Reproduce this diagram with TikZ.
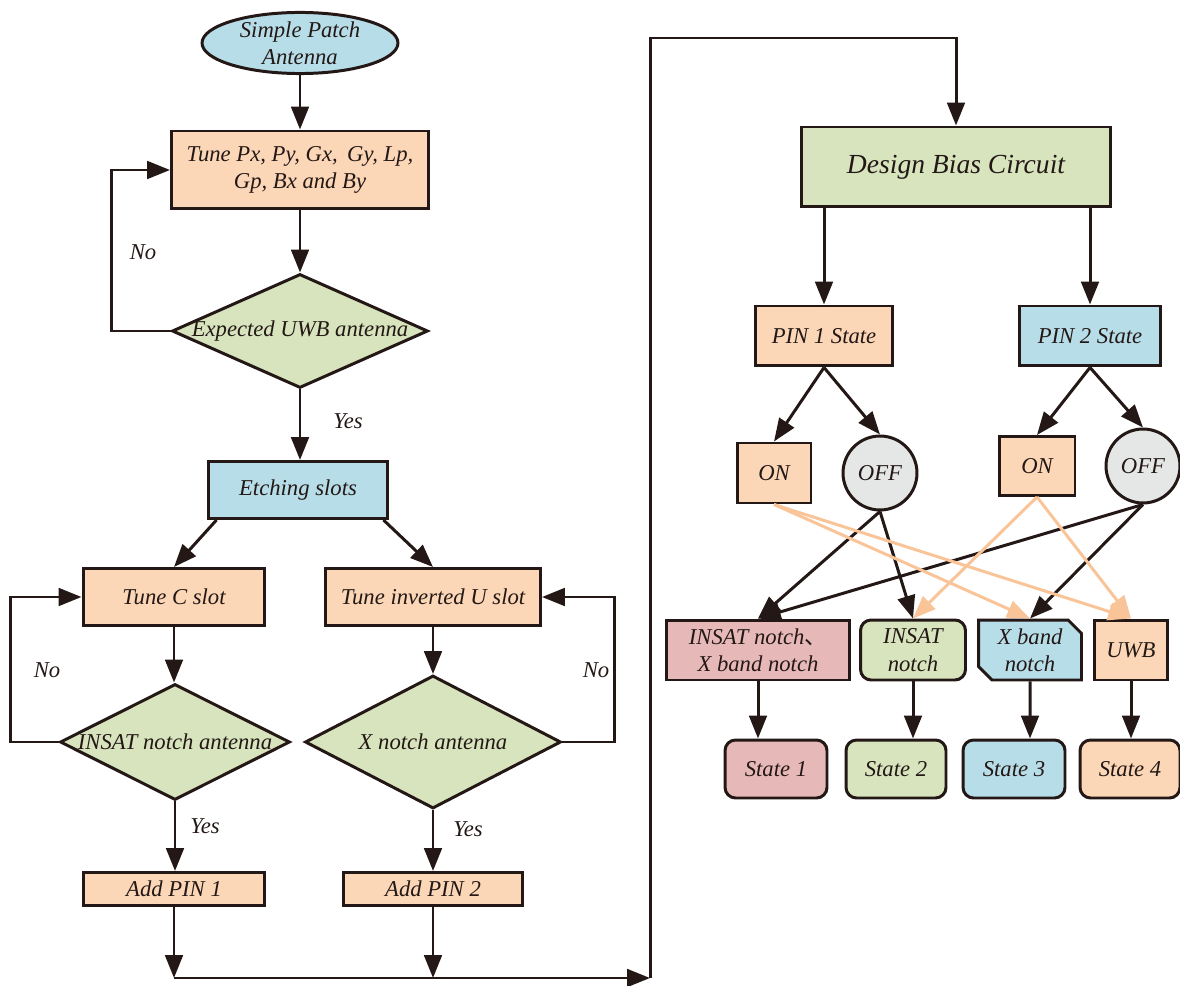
\documentclass[tikz,border=0pt]{standalone}
\usepackage{fontspec}
\setmainfont{Liberation Serif}
\newfontfamily\cjk{Noto Sans CJK SC}
\usetikzlibrary{arrows.meta,shapes.geometric,shapes.misc}
\definecolor{ink}{RGB}{35,24,21}
\definecolor{peach}{RGB}{251,214,183}
\definecolor{sky}{RGB}{183,221,232}
\definecolor{sage}{RGB}{215,228,189}
\definecolor{rose}{RGB}{230,185,184}
\definecolor{mist}{RGB}{229,231,230}
\definecolor{amber}{RGB}{249,196,152}

\begin{document}
\begin{tikzpicture}
  [x=0.02cm,y=-0.02cm,line width=1.7pt,draw=ink,
   >={Triangle[length=13pt,width=10pt]},
   every node/.style={font=\fontsize{12.9}{15.5}\selectfont\itshape,text=ink,align=center,inner sep=1pt},
   box/.style={draw,rectangle,line width=1.7pt},
   rbox/.style={box,rounded corners=6pt},
   dia/.style={draw,diamond,aspect=2,inner xsep=-0.5cm,inner ysep=0pt,fill=sage},
   sw/.style={draw,circle,fill=mist,minimum size=1.48cm,inner sep=0pt},
   soft/.style={draw=amber,color=amber}]
  \useasboundingbox (0,0) rectangle (1180,986);

  \node[draw,ellipse,fill=sky,minimum width=3.92cm,minimum height=1.2cm,inner sep=0pt] (sp) at (300,43) {Simple Patch\\Antenna};
  \node[box,fill=peach,minimum width=5.14cm,minimum height=1.56cm] (tp) at (300,170) {Tune Px, Py, Gx,\, Gy, Lp,\\Gp, Bx and By};
  \node[dia,minimum width=5.12cm,minimum height=2.28cm] (d1) at (300,331) {Expected UWB antenna};
  \node[box,fill=sky,minimum width=3.6cm,minimum height=1.14cm] (es) at (298,490) {Etching slots};
  \node[box,fill=peach,minimum width=3.64cm,minimum height=1.14cm] (tc) at (174,597) {Tune C slot};
  \node[box,fill=peach,minimum width=4.3cm,minimum height=1.14cm] (tu) at (433,597) {Tune inverted U slot};
  \node[dia,minimum width=4.6cm,minimum height=2.32cm] (d2) at (175,742) {INSAT notch antenna};
  \node[dia,minimum width=5.12cm,minimum height=2.66cm] (d3) at (433,742) {X notch antenna};
  \node[box,fill=peach,minimum width=3.64cm,minimum height=0.66cm] (a1) at (174,889) {Add PIN 1};
  \node[box,fill=peach,minimum width=3.6cm,minimum height=0.66cm] (a2) at (433,889) {Add PIN 2};

  \node[box,fill=sage,minimum width=6.18cm,minimum height=1.6cm,font=\fontsize{15.7}{18}\selectfont\itshape] (db) at (956,167) {Design Bias Circuit};
  \node[box,fill=peach,minimum width=2.74cm,minimum height=1.2cm] (p1) at (824,336) {PIN 1 State};
  \node[box,fill=sky,minimum width=2.82cm,minimum height=1.2cm] (p2) at (1090,336) {PIN 2 State};
  \node[box,fill=peach,minimum width=1.48cm,minimum height=1.2cm] (on1) at (774,473) {ON};
  \node[sw] (off1) at (880,473) {OFF};
  \node[box,fill=peach,minimum width=1.52cm,minimum height=1.18cm] (on2) at (1037,466) {ON};
  \node[sw] (off2) at (1143,466) {OFF};

  \node[box,fill=rose,minimum width=3.66cm,minimum height=1.2cm] (b1) at (758,650) {INSAT notch{\cjk 、}\\X band notch};
  \node[rbox,fill=sage,minimum width=2.1cm,minimum height=1.2cm] (b2) at (913,650) {INSAT\\notch};
  \node[draw,chamfered rectangle,chamfered rectangle corners={north east,south west},chamfered rectangle xsep=0.16cm,
        fill=sky,minimum width=2.06cm,minimum height=1.2cm] (b3) at (1030,650) {X band\\notch};
  \node[box,fill=peach,minimum width=1.46cm,minimum height=1.2cm] (b4) at (1131,650) {UWB};
  \node[rbox,fill=rose,minimum width=2.04cm,minimum height=1.16cm] (s1) at (776,769) {State 1};
  \node[rbox,fill=sage,minimum width=2cm,minimum height=1.16cm] (s2) at (896,769) {State 2};
  \node[rbox,fill=sky,minimum width=2.04cm,minimum height=1.16cm] (s3) at (1014,769) {State 3};
  \node[rbox,fill=peach,minimum width=2cm,minimum height=1.16cm] (s4) at (1130,769) {State 4};

  \node (no1) at (143,252) {No};
  \node (yes1) at (348,421) {Yes};
  \node (no2) at (47,670) {No};
  \node (no3) at (596,670) {No};
  \node (yes2) at (205,826) {Yes};
  \node (yes3) at (468,829) {Yes};

  \coordinate (j3) at (650,978);
  \coordinate (turn) at (650,38);

\foreach \from/\to in
{sp/tp, tp/d1, d1/es, tc/d2, tu/d3, d2/a1, d3/a2, b1/s1, b2/s2, b3/s3, b4/s4}
    \draw[->] (\from) -- (\from |- \to.north);
\foreach \from/\to in
{p1/on1, p1/off1, p2/on2, p2/off2, off1/b1, off1/b2, off2/b1, off2/b3}
    \draw[->] (\from.south) -- (\to.north);
\foreach \from/\to in
{on1/b3, on1/b4, on2/b2, on2/b4}
    \draw[->,soft] (\from.south) -- (\to.north);

  \draw[->] ([xshift=0.2cm]es.south west) -- (tc.north);
  \draw[->] ([xshift=-0.12cm]es.south east) -- (tu.north);
  \draw[->] (d1.west) -- ++(-59,0) |- (tp.west);
  \draw[->] (d2.west) -- ++(-48,0) |- (tc.west);
  \draw[->] (d3.east) -- ++(52,0) |- (tu.east);
  \draw[->] (a1) -- (a1 |- j3);
  \draw[->] (a2) -- (a2 |- j3);
  \draw[->] (a1 |- j3) -- (j3);
  \draw[->] (j3) -- (turn) -| (db.north);
  \draw[->] (p1 |- db.south) -- (p1.north);
  \draw[->] (p2 |- db.south) -- (p2.north);
\end{tikzpicture}
\end{document}
